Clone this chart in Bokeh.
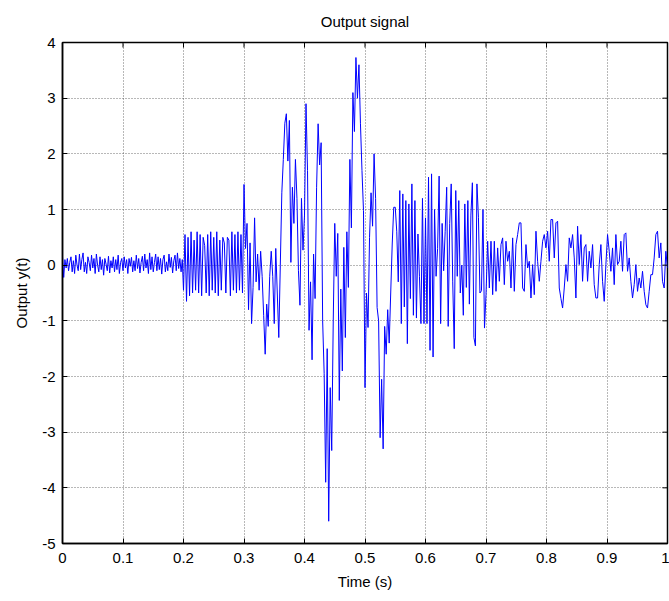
import numpy as np
from bokeh.plotting import figure
from bokeh.models import Range1d, FixedTicker, CustomJSTickFormatter, ColumnDataSource
from bokeh.embed import file_html
from bokeh.resources import INLINE

# ---- data (output y(t), per time segment) ----
seg_bounds = [0.0, 0.2, 0.3, 0.55, 0.7, 1.0]

seg_quiet = [
    0.15, -0.22, 0.1, -0.05, 0.12, -0.1, 0.05, 0.15, -0.12, 0.08,
    -0.15, 0.18, 0.0, -0.1, 0.2, -0.08, 0.1, 0.22, -0.12, 0.05,
    -0.15, 0.15, 0.05, -0.1, 0.18, -0.05, 0.12, -0.15, 0.2, 0.0,
    -0.12, 0.15, -0.08, 0.1, -0.18, 0.12, 0.02, -0.1, 0.16, -0.14,
    0.08, -0.05, 0.15, -0.12, 0.1, -0.08, 0.18, -0.15, 0.05, 0.12,
    -0.1, 0.15, -0.05, 0.1, -0.15, 0.12, -0.02, 0.14, -0.12, 0.08,
    -0.1, 0.18, -0.06, 0.12, -0.14, 0.05, 0.16, -0.1, 0.2, -0.05,
    0.1, -0.15, 0.22, -0.08, 0.15, -0.12, 0.05, 0.2, -0.1, 0.15,
    -0.08, 0.12, -0.16, 0.1, 0.18, -0.12, 0.06, -0.1, 0.2, -0.04,
    0.14, -0.14, 0.08, 0.18, -0.1, 0.22, -0.06, 0.12, -0.12, 0.1,
]

seg_chirp = [
    -0.45, 0.55, -0.65, 0.5, -0.55, 0.6, -0.5, 0.45, -0.45, 0.6,
    -0.5, 0.55, -0.55, 0.5, 0.35, -0.5, 0.55, -0.55, 0.6, -0.45,
    0.5, -0.5, 0.6, -0.55, 0.45, -0.45, 0.5, 0.4, -0.5, 0.5,
    0.45, -0.55, 0.6, -0.45, 0.55, -0.5, 0.6, -0.45, 0.55, -0.5,
]

seg_burst = [
    1.45, 0.3, 0.75, -0.8, 0.4, -1.05, -0.4, 0.85, -0.3, 0.2,
    -0.45, 0.25, -0.2, -0.9, -1.6, -0.7, -1.1, -0.2, 0.25, -0.2,
    -1.05, 0.3, -0.5, -1.3, 0.0, 1.3, 1.9, 2.55, 2.72, 1.87,
    2.6, 0.05, 1.4, 0.75, 1.9, 1.2, -0.1, -0.72, 1.2, 0.27,
    0.9, 2.9, 1.7, -1.17, -0.3, -1.7, 0.2, -0.6, 1.4, 2.54,
    1.8, 2.2, -1.0, -1.95, -3.9, -1.5, -4.6, -2.2, -3.33, -1.0,
    0.75, -0.2, 0.57, -2.43, -0.43, -1.9, 0.32, -1.3, 0.6, -0.4,
    1.9, 0.67, 3.1, 2.4, 3.73, 3.0, 3.6, 2.54, 1.7, 0.98,
    -2.2, -0.5, -1.12, 0.5, 1.3, 0.7, 2.0, 1.2, -0.76, -1.0,
    -3.1, -2.05, -3.3, -1.1, -1.6, -0.8, -1.4, -0.5, 0.38, 1.04,
]

seg_mid = [
    1.04, 0.6, -0.3, 1.34, -1.05, 1.28, -0.75, 1.16, -1.41, 1.1,
    -0.6, 1.46, -0.9, 1.16, -0.95, 0.56, -0.2, -1.05, 1.2, -1.05,
    0.85, -1.05, 1.58, -1.53, 1.64, -1.65, 1.0, -0.2, 0.3, 1.6,
    -1.05, 0.75, -0.1, 0.6, 1.4, -1.1, 0.75, 1.46, -0.3, -1.5,
    1.34, -0.2, 1.16, -0.5, 0.0, -0.9, 1.1, -0.4, 1.16, -0.7,
    0.9, 1.48, -1.3, -1.45, 1.46, 0.86, -0.5, -0.46, 1.0, -1.13,
]

seg_tail = [
    -0.53, 0.43, -0.41, 0.43, -0.53, 0.43, -0.47, 0.31, -0.29, 0.37,
    0.49, -0.35, 0.43, 0.07, 0.25, -0.41, 0.49, -0.47, 0.37, 0.55,
    0.76, 0.76, -0.41, -0.47, 0.37, -0.05, 0.07, -0.59, 0.01, -0.53,
    0.61, 0.07, -0.29, 0.07, 0.43, 0.55, 0.31, 0.61, 0.07, 0.82,
    0.82, 0.13, 0.76, 0.79, -0.41, -0.6, -0.77, -0.41, 0.01, -0.29,
    0.49, 0.31, 0.55, 0.13, -0.59, 0.7, 0.01, 0.55, -0.29, 0.31,
    0.37, -0.29, 0.25, -0.05, 0.37, -0.35, -0.59, -0.59, 0.01, 0.37,
    -0.29, -0.65, 0.01, 0.55, 0.25, -0.11, 0.31, -0.35, 0.55, 0.01,
    0.07, 0.43, -0.11, 0.55, 0.58, -0.11, 0.13, -0.29, -0.59, -0.35,
    0.01, -0.47, -0.23, -0.41, -0.11, -0.47, -0.71, -0.77, -0.47, -0.17,
    -0.17, 0.13, 0.55, 0.61, 0.13, 0.4, -0.29, -0.41, 0.25, -0.05,
]

x_ticks = [0.0, 0.1, 0.2, 0.3, 0.4, 0.5, 0.6, 0.7, 0.8, 0.9, 1.0]
y_ticks = [-5, -4, -3, -2, -1, 0, 1, 2, 3, 4]

# ---- assemble time axis of samples per segment ----
segments = [seg_quiet, seg_chirp, seg_burst, seg_mid, seg_tail]
ts, ys = [], []
for i, seg in enumerate(segments):
    last = i == len(segments) - 1
    ts.append(np.linspace(seg_bounds[i], seg_bounds[i + 1], len(seg), endpoint=last))
    ys.append(np.array(seg, dtype=float))
t = np.concatenate(ts)
y = np.concatenate(ys)
src = ColumnDataSource(dict(t=t, y=y))

FONT = "Liberation Sans"
x_lo, x_hi = x_ticks[0], x_ticks[-1]
y_lo, y_hi = y_ticks[0], y_ticks[-1]

p = figure(width=669, height=601, output_backend="svg", toolbar_location=None,
           x_range=Range1d(x_lo, x_hi), y_range=Range1d(y_lo, y_hi),
           min_border_left=62, min_border_right=2, min_border_top=42, min_border_bottom=58,
           title="Output signal")
p.background_fill_color = "white"
p.border_fill_color = "white"
p.outline_line_color = "black"
p.outline_line_width = 1.5

p.title.align = "center"
p.title.vertical_align = "top"
p.title.text_font = FONT
p.title.text_font_size = "15px"
p.title.text_font_style = "normal"
p.title.text_color = "black"
p.title.standoff = 22

for g, tk in ((p.xgrid[0], x_ticks), (p.ygrid[0], y_ticks)):
    g.ticker = FixedTicker(ticks=tk)
    g.grid_line_color = "#404040"
    g.grid_line_alpha = 0.75
    g.grid_line_width = 1
    g.grid_line_dash = "1 2"

p.line("t", "y", source=src, line_color="#0000ff", line_width=1)

# inward ticks on the top and right edges of the box (clipped to the frame)
p.scatter(x=x_ticks, y=[y_hi] * len(x_ticks), marker="dash", size=10, angle=np.pi / 2,
          line_color="black", line_width=1)
p.scatter(x=[x_hi] * len(y_ticks), y=y_ticks, marker="dash", size=10, angle=0,
          line_color="black", line_width=1)

xfmt = CustomJSTickFormatter(code="var s = tick.toFixed(1); return s.replace(/\\.0$/, '');")
yfmt = CustomJSTickFormatter(code="return tick.toFixed(0);")

def style_axis(ax):
    ax.axis_line_color = "black"
    ax.axis_line_width = 1.5
    ax.major_tick_in = 5
    ax.major_tick_out = 0
    ax.major_tick_line_color = "black"
    ax.major_tick_line_width = 1
    ax.minor_tick_line_color = None
    ax.major_label_text_font = FONT
    ax.major_label_text_font_size = "15px"
    ax.major_label_text_color = "black"
    ax.axis_label_text_font = FONT
    ax.axis_label_text_font_size = "15px"
    ax.axis_label_text_font_style = "normal"
    ax.axis_label_text_color = "black"

xa = p.xaxis[0]
xa.ticker = FixedTicker(ticks=x_ticks)
xa.formatter = xfmt
xa.axis_label = "Time (s)"
style_axis(xa)
xa.major_label_standoff = 9
xa.axis_label_standoff = 7

ya = p.yaxis[0]
ya.ticker = FixedTicker(ticks=y_ticks)
ya.formatter = yfmt
ya.axis_label = "Output y(t)"
style_axis(ya)
ya.major_label_standoff = 7
ya.axis_label_standoff = 9

open("out.html", "w").write(file_html(p, INLINE))
